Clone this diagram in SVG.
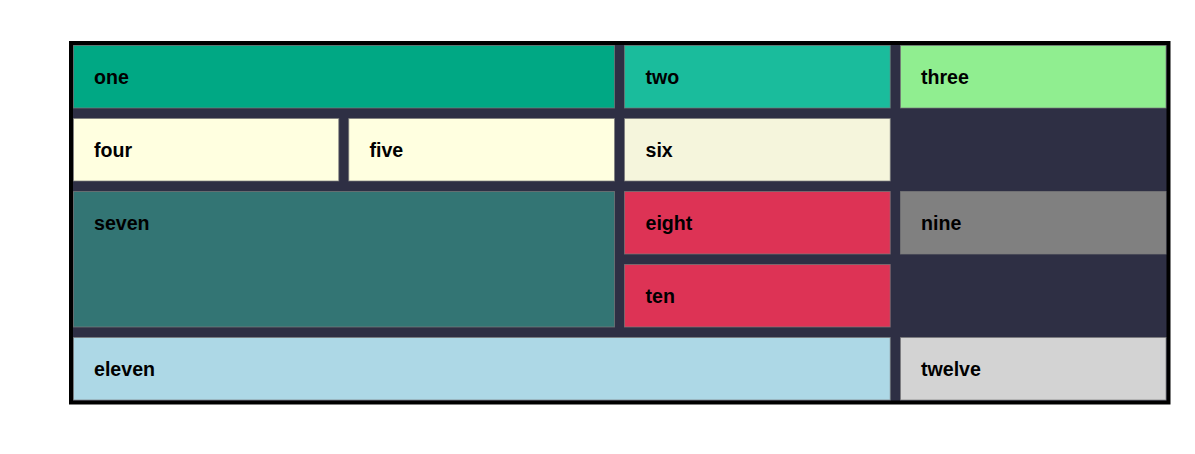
<svg xmlns="http://www.w3.org/2000/svg" width="1195" height="454" viewBox="0 0 1195 454">
<style>
.cell{stroke:#7a7a7a;stroke-width:1;stroke-opacity:0.7}
.lbl{font-family:"Liberation Sans",Arial,sans-serif;font-weight:bold;font-size:19.6px;fill:#000}
</style>
<rect x="0" y="0" width="1195" height="454" fill="#ffffff"/>
<g id="frame">
<rect x="71" y="43" width="1097.5" height="359.5" fill="#2e2f44" stroke="#000000" stroke-width="4"/>
</g>
<g id="one"><rect class="cell" x="73.5" y="45.5" width="541" height="62.5" fill="#00a884"/><text class="lbl" x="94" y="83.5">one</text></g>
<g id="two"><rect class="cell" x="624.5" y="45.5" width="265.75" height="62.5" fill="#1abc9c"/><text class="lbl" x="645.5" y="83.5">two</text></g>
<g id="three"><rect class="cell" x="900.5" y="45.5" width="265.5" height="62.5" fill="#90ee90"/><text class="lbl" x="921" y="83.5">three</text></g>
<g id="four"><rect class="cell" x="73.5" y="118.5" width="265.25" height="62.5" fill="#ffffe0"/><text class="lbl" x="94" y="156.5">four</text></g>
<g id="five"><rect class="cell" x="348.75" y="118.5" width="265.75" height="62.5" fill="#ffffe0"/><text class="lbl" x="369.5" y="156.5">five</text></g>
<g id="six"><rect class="cell" x="624.5" y="118.5" width="265.75" height="62.5" fill="#f5f5dc"/><text class="lbl" x="645.5" y="156.5">six</text></g>
<g id="seven"><rect class="cell" x="73.5" y="191.5" width="541" height="135.5" fill="#337574"/><text class="lbl" x="94" y="229.5">seven</text></g>
<g id="eight"><rect class="cell" x="624.5" y="191.5" width="265.75" height="62.5" fill="#dd3355"/><text class="lbl" x="645.5" y="229.5">eight</text></g>
<g id="nine"><rect class="cell" x="900.5" y="191.5" width="265.5" height="62.5" fill="#808080"/><text class="lbl" x="921" y="229.5">nine</text></g>
<g id="ten"><rect class="cell" x="624.5" y="264.5" width="265.75" height="62.5" fill="#dd3355"/><text class="lbl" x="645.5" y="302.5">ten</text></g>
<g id="eleven"><rect class="cell" x="73.5" y="337.5" width="816.75" height="62.5" fill="#add8e6"/><text class="lbl" x="94" y="375.5">eleven</text></g>
<g id="twelve"><rect class="cell" x="900.5" y="337.5" width="265.5" height="62.5" fill="#d3d3d3"/><text class="lbl" x="921" y="375.5">twelve</text></g>
<g id="connectors"></g>
</svg>
